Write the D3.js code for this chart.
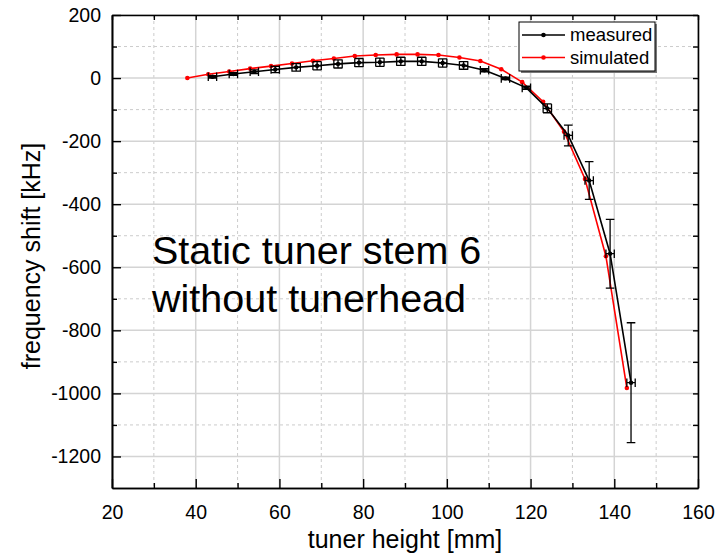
<!DOCTYPE html>
<html>
<head>
<meta charset="utf-8">
<script src="https://cdn.jsdelivr.net/npm/d3@7"></script>
<style>
  body { margin: 0; background: #fff; }
  svg { font-family: "Liberation Sans", Arial, sans-serif; }
</style>
</head>
<body>
<div id="chart"></div>
<script>
// measured points (tuner height in mm, shift in kHz)
var measX    = [44, 49, 54, 59, 64, 69, 74, 79, 84, 89, 94, 99, 104, 109, 114, 119, 124, 129, 134, 139, 144];
var measY    = [4, 13, 20, 27, 34, 39, 45, 49, 50, 53, 53, 48, 40, 25, -1, -31, -96, -182, -325, -557, -966];
var measYErr = [4, 4, 6, 10, 12, 13, 13, 13, 13, 13, 13, 13, 12, 5, 4, 5, 14, 33, 60, 109, 190];
var measXErr = [1, 1, 1, 1, 1, 1, 1, 1, 1, 1, 1, 1, 1, 1, 1, 1, 1, 1, 1, 1, 1];

// simulated curve
var simX = [38, 43, 48, 53, 58, 63, 68, 73, 78, 83, 88, 93, 98, 103, 108, 113, 118, 123, 128, 133, 138, 143];
var simY = [0, 12, 21, 30, 38, 46, 55, 62, 70, 73, 75, 75, 73, 65, 54, 28, -13, -75, -170, -320, -565, -983];

var xMajor = [20, 40, 60, 80, 100, 120, 140, 160];
var xMinor = [30, 50, 70, 90, 110, 130, 150];
var yMajor = [200, 0, -200, -400, -600, -800, -1000, -1200];
var yMinor = [100, -100, -300, -500, -700, -900, -1100];

var seriesNames = ["measured", "simulated"];
var seriesColours = ["#000000", "#ff0000"];
var noteLines = ["Static tuner stem 6", "without tunerhead"];

var W = 725, H = 558;
var margin = {top: 15, right: 27, bottom: 70, left: 112};
var w = W - margin.left - margin.right;
var h = H - margin.top - margin.bottom;

var x = d3.scaleLinear().domain([20, 160]).range([0, w]);
var y = d3.scaleLinear().domain([-1300, 200]).range([h, 0]);

var svg = d3.select("#chart").append("svg")
  .attr("width", W).attr("height", H);
var g = svg.append("g")
  .attr("transform", "translate(" + margin.left + "," + margin.top + ")");

// grid
g.append("g").selectAll("line").data(xMinor).enter().append("line")
  .attr("x1", function(d){ return x(d); }).attr("x2", function(d){ return x(d); })
  .attr("y1", 0).attr("y2", h)
  .attr("stroke", "#cccccc").attr("stroke-width", 1).attr("stroke-dasharray", "3,3");
g.append("g").selectAll("line").data(yMinor).enter().append("line")
  .attr("y1", function(d){ return y(d); }).attr("y2", function(d){ return y(d); })
  .attr("x1", 0).attr("x2", w)
  .attr("stroke", "#cccccc").attr("stroke-width", 1).attr("stroke-dasharray", "3,3");
g.append("g").selectAll("line").data(xMajor).enter().append("line")
  .attr("x1", function(d){ return x(d); }).attr("x2", function(d){ return x(d); })
  .attr("y1", 0).attr("y2", h)
  .attr("stroke", "#d4d4d4").attr("stroke-width", 1.5);
g.append("g").selectAll("line").data(yMajor).enter().append("line")
  .attr("y1", function(d){ return y(d); }).attr("y2", function(d){ return y(d); })
  .attr("x1", 0).attr("x2", w)
  .attr("stroke", "#d4d4d4").attr("stroke-width", 1.5);

// axes
function styleAxis(sel) {
  sel.select(".domain").attr("stroke", "#000").attr("stroke-width", 1.6);
  sel.selectAll(".tick line").attr("stroke", "#000").attr("stroke-width", 1.4);
  sel.selectAll("text").attr("fill", "#000").style("font-size", "19.5px");
}
g.append("g").attr("transform", "translate(0," + h + ")")
  .call(d3.axisBottom(x).tickValues(xMajor).tickSizeInner(-9).tickSizeOuter(0).tickPadding(17).tickFormat(d3.format("d")))
  .call(styleAxis);
g.append("g").attr("transform", "translate(0," + h + ")")
  .call(d3.axisBottom(x).tickValues(xMinor).tickSizeInner(-5).tickSizeOuter(0).tickFormat(""))
  .call(styleAxis);
g.append("g")
  .call(d3.axisLeft(y).tickValues(yMajor).tickSizeInner(-9).tickSizeOuter(0).tickPadding(11).tickFormat(function(d){ return String(d); }))
  .call(styleAxis);
g.append("g")
  .call(d3.axisLeft(y).tickValues(yMinor).tickSizeInner(-5).tickSizeOuter(0).tickFormat(""))
  .call(styleAxis);
g.append("g")
  .call(d3.axisTop(x).tickValues(xMajor.concat(xMinor)).tickSizeInner(-5).tickSizeOuter(0).tickFormat(""))
  .call(styleAxis);
g.append("g").attr("transform", "translate(" + w + ",0)")
  .call(d3.axisRight(y).tickValues(yMajor.concat(yMinor)).tickSizeInner(-5).tickSizeOuter(0).tickFormat(""))
  .call(styleAxis);

// axis titles
svg.append("text")
  .attr("x", margin.left + w / 2).attr("y", 548)
  .attr("text-anchor", "middle").style("font-size", "25px")
  .text("tuner height [mm]");
svg.append("text")
  .attr("transform", "translate(40," + 256 + ") rotate(-90)")
  .attr("text-anchor", "middle").style("font-size", "25px")
  .text("frequency shift [kHz]");

// annotation
svg.append("g").selectAll("text").data(noteLines).enter().append("text")
  .attr("x", 152).attr("y", function(d, i){ return 264 + i * 48; })
  .style("font-size", "39.5px")
  .text(function(d){ return d; });

var line = d3.line()
  .x(function(d){ return x(d[0]); })
  .y(function(d){ return y(d[1]); });

var sim = simX.map(function(d, i){ return [d, simY[i]]; });
var meas = measX.map(function(d, i){ return [d, measY[i], measXErr[i], measYErr[i]]; });

// simulated
g.append("path").datum(sim).attr("d", line)
  .attr("fill", "none").attr("stroke", seriesColours[1]).attr("stroke-width", 1.6);
g.append("g").selectAll("circle").data(sim).enter().append("circle")
  .attr("cx", function(d){ return x(d[0]); }).attr("cy", function(d){ return y(d[1]); })
  .attr("r", 2.3).attr("fill", seriesColours[1]);

// measured
g.append("path").datum(meas).attr("d", line)
  .attr("fill", "none").attr("stroke", seriesColours[0]).attr("stroke-width", 1.6);

var cap = 4.3;
var eb = g.append("g").attr("stroke", "#000").attr("stroke-width", 1.3).attr("fill", "none");
meas.forEach(function(d) {
  var cx = x(d[0]), cy = y(d[1]);
  var yt = y(d[1] + d[3]), yb = y(d[1] - d[3]);
  var xl = x(d[0] - d[2]), xr = x(d[0] + d[2]);
  eb.append("path").attr("d",
    "M" + cx + "," + yt + "V" + yb +
    "M" + (cx - cap) + "," + yt + "H" + (cx + cap) +
    "M" + (cx - cap) + "," + yb + "H" + (cx + cap) +
    "M" + xl + "," + cy + "H" + xr +
    "M" + xl + "," + (cy - cap) + "V" + (cy + cap) +
    "M" + xr + "," + (cy - cap) + "V" + (cy + cap));
});
g.append("g").selectAll("circle").data(meas).enter().append("circle")
  .attr("cx", function(d){ return x(d[0]); }).attr("cy", function(d){ return y(d[1]); })
  .attr("r", 2.2).attr("fill", seriesColours[0]);

// legend
var lg = svg.append("g").attr("transform", "translate(519,22)");
lg.append("rect").attr("x", 2).attr("y", 2).attr("width", 136).attr("height", 49).attr("fill", "#777");
lg.append("rect").attr("width", 136).attr("height", 49).attr("fill", "#fff").attr("stroke", "#000").attr("stroke-width", 1);
seriesNames.forEach(function(name, i) {
  var yy = 13 + i * 22.5;
  lg.append("line").attr("x1", 3).attr("x2", 46).attr("y1", yy).attr("y2", yy)
    .attr("stroke", seriesColours[i]).attr("stroke-width", 1.6);
  lg.append("circle").attr("cx", 24.5).attr("cy", yy).attr("r", 2.3).attr("fill", seriesColours[i]);
  lg.append("text").attr("x", 51).attr("y", yy).attr("dy", "0.35em")
    .style("font-size", "18.5px").text(name);
});
</script>
</body>
</html>
